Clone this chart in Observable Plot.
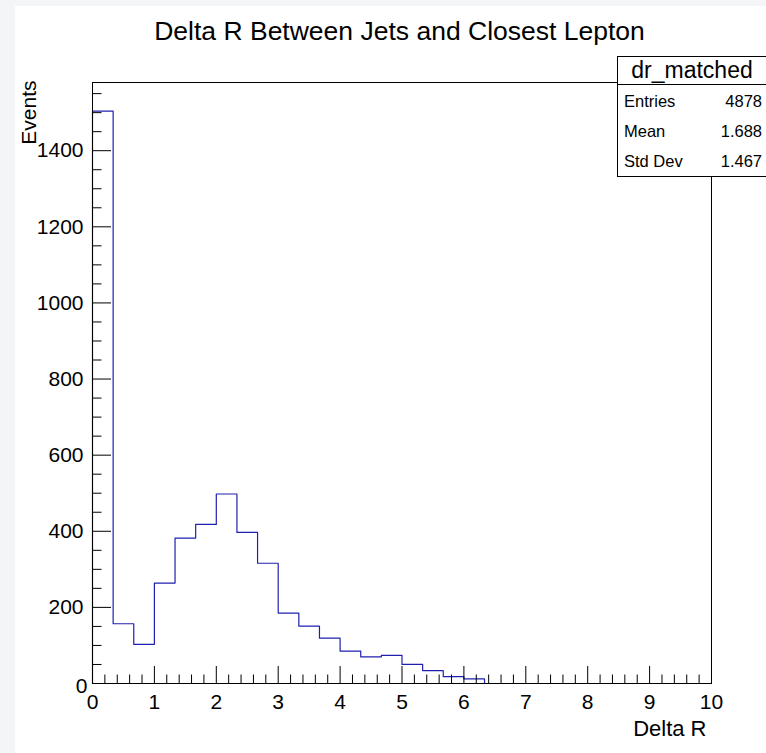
<!DOCTYPE html>
<html>
<head>
<meta charset="utf-8">
<script src="https://cdn.jsdelivr.net/npm/d3@7"></script>
<script src="https://cdn.jsdelivr.net/npm/@observablehq/plot@0.6"></script>
<style>
  html, body { margin: 0; padding: 0; }
  body {
    width: 766px; height: 753px; position: relative; overflow: hidden;
    background: #f4f5f7;
    font-family: "Liberation Sans", Arial, Helvetica, sans-serif;
  }
  #pad { position: absolute; left: 15px; top: 6px; width: 751px; height: 747px; background: #fff; overflow: hidden; }
  #pad svg { overflow: hidden; }
  #stats {
    position: absolute; left: 617px; top: 56px; width: 150px; height: 121px;
    border: 1px solid #000; background: #fff; box-sizing: border-box; color: #000;
  }
  #stats .head {
    position: absolute; left: 0; right: 0; top: 0; height: 27px; border-bottom: 1px solid #000;
    text-align: center; font-size: 23px; line-height: 26px;
  }
  #stats .row { position: absolute; left: 0; right: 0; height: 20px; line-height: 20px; font-size: 16.5px; }
  #stats .row .k { position: absolute; left: 6px; }
  #stats .row .v { position: absolute; right: 4px; }
</style>
</head>
<body>
<div id="pad"></div>
<div id="stats"></div>
<script>
// Histogram "dr_matched": 30 bins of Delta R on [0, 10]
const histName = "dr_matched";
const xMin = 0, xMax = 10, nBins = 30;
const counts = [1504, 157, 103, 264, 382, 418, 498, 397, 316, 185,
                151, 119, 85, 70, 74, 50, 34, 18, 12, 0,
                0, 0, 0, 0, 0, 0, 0, 0, 0, 0];
const statLabels = ["Entries", "Mean", "Std Dev"];
const statValues = ["4878", "1.688", "1.467"];
const titleText = "Delta R Between Jets and Closest Lepton";
const xTitle = "Delta R";
const yTitle = "Events";
const xTickValues = [0, 1, 2, 3, 4, 5, 6, 7, 8, 9, 10];
const yTickValues = [0, 200, 400, 600, 800, 1000, 1200, 1400];

// Geometry of the pad
const W = 751, H = 747;
const mL = 77, mR = 55, mT = 76, mB = 70;
const plotW = W - mL - mR, plotH = H - mT - mB;
const yMax = 1.05 * d3.max(counts);

const binW = (xMax - xMin) / nBins;
const steps = counts.map((c, i) => ({x: xMin + i * binW, y: c}));
steps.unshift({x: xMin, y: 0});
steps.push({x: xMax, y: counts[counts.length - 1]});

const xMinor = d3.range(xMin, xMax + 1e-9, 0.2).filter(v => Math.abs(v - Math.round(v)) > 1e-6);
const yMinor = d3.range(50, yMax, 50).filter(v => v % 200 !== 0);

const ink = "#000";
const font = "Liberation Sans, Arial, Helvetica, sans-serif";
const mid = {lineAnchor: "middle", fill: ink};

const chart = Plot.plot({
  width: W, height: H,
  marginLeft: mL, marginRight: mR, marginTop: mT, marginBottom: mB,
  style: {fontFamily: font, background: "transparent", overflow: "hidden"},
  x: {domain: [xMin, xMax], axis: null},
  y: {domain: [0, yMax], axis: null},
  marks: [
    Plot.line(steps, {x: "x", y: "y", curve: "step-after", stroke: "#2020b0", strokeWidth: 1.2}),
    Plot.frame({stroke: ink, strokeWidth: 1}),
    // ticks drawn inside the frame
    Plot.tickX(xTickValues, {x: d => d, stroke: ink, insetTop: plotH - 17}),
    Plot.tickX(xMinor, {x: d => d, stroke: ink, insetTop: plotH - 8.5}),
    Plot.tickY(yTickValues, {y: d => d, stroke: ink, insetRight: plotW - 19}),
    Plot.tickY(yMinor, {y: d => d, stroke: ink, insetRight: plotW - 9.5}),
    // tick labels
    Plot.text(xTickValues, {x: d => d, text: d => String(d), frameAnchor: "bottom", dy: 19, fontSize: 21, ...mid}),
    Plot.text(yTickValues.filter(d => d !== 0), {y: d => d, text: d => String(d), frameAnchor: "left", textAnchor: "end", dx: -9, fontSize: 21, ...mid}),
    Plot.text(yTickValues.filter(d => d === 0), {y: d => d, text: d => String(d), frameAnchor: "left", textAnchor: "end", dx: -5, dy: 2.5, fontSize: 21, ...mid}),
    // axis titles and plot title
    Plot.text([xTitle], {text: d => d, frameAnchor: "bottom-right", textAnchor: "end", dx: -5, dy: 45, fontSize: 22, ...mid}),
    Plot.text([yTitle], {text: d => d, frameAnchor: "top-left", textAnchor: "end", rotate: -90, dx: -63, dy: -2, fontSize: 21, ...mid}),
    Plot.text([titleText], {text: d => d, frameAnchor: "top", dx: -2.5, dy: -51, fontSize: 26.5, ...mid})
  ]
});
document.getElementById("pad").appendChild(chart);

// Statistics box
const stats = document.getElementById("stats");
const head = document.createElement("div");
head.className = "head";
head.textContent = histName;
stats.appendChild(head);
const rowCenters = [44, 74, 104];
statLabels.forEach((k, i) => {
  const row = document.createElement("div");
  row.className = "row";
  row.style.top = (rowCenters[i] - 10) + "px";
  row.innerHTML = `<span class="k"></span><span class="v"></span>`;
  row.querySelector(".k").textContent = k;
  row.querySelector(".v").textContent = statValues[i];
  stats.appendChild(row);
});
</script>
</body>
</html>
